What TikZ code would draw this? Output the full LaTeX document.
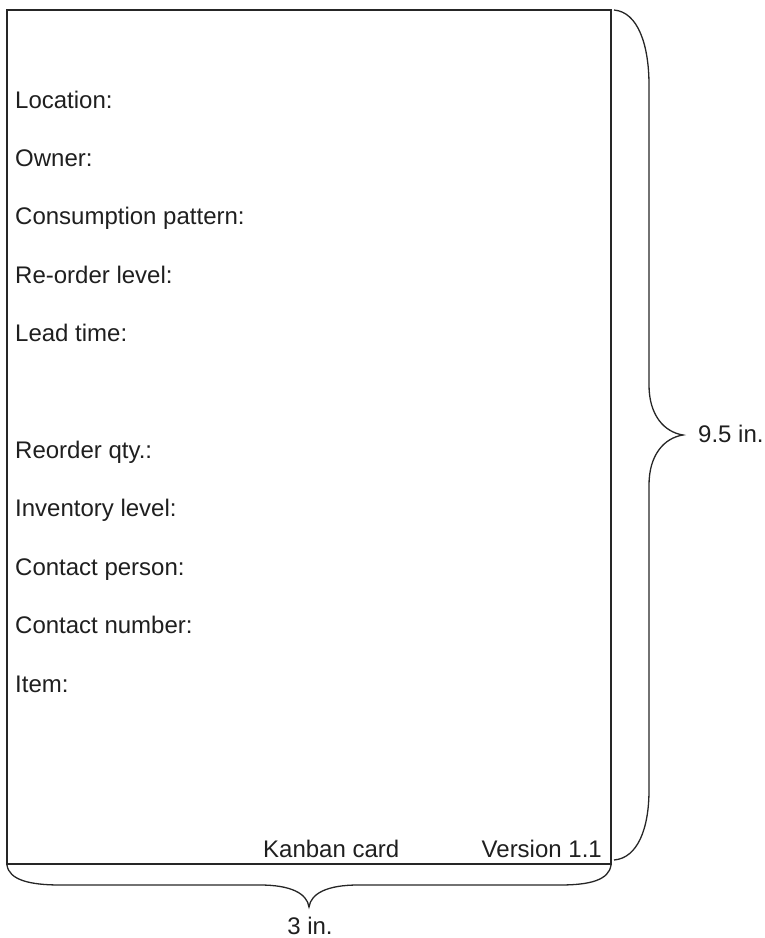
\documentclass[tikz,border=0pt]{standalone}
\usepackage{fontspec}
\setmainfont{Liberation Sans}
\begin{document}
\begin{tikzpicture}[x=1pt,y=-1pt,
  ink/.style={draw=black!85, line width=1.3pt},
  field/.style={anchor=base west, inner sep=0pt, text=black!88,
    font=\fontsize{24}{28}\selectfont},
  dimlabel/.style={anchor=base west, inner sep=0pt, text=black!88,
    text depth=0pt, font=\fontsize{24}{28}\selectfont}]
  \useasboundingbox (0,0) rectangle (765,938);

  % card outline
  \coordinate (cardNW) at (7,10);
  \coordinate (cardSE) at (611,864);
  \draw[ink] (cardNW) rectangle (cardSE);

  % field labels
  \node[field] (loc)   at (15,108)   {Location:};
  \node[field] (own)   at (15,166.4) {Owner:};
  \node[field] (cons)  at (15,224.8) {Consumption pattern:};
  \node[field] (rol)   at (15,283.2) {Re-order level:};
  \node[field] (lead)  at (15,341.6) {Lead time:};
  \node[field] (rqty)  at (15,458.4) {Reorder qty.:};
  \node[field] (inv)   at (15,516.8) {Inventory level:};
  \node[field] (cper)  at (15,575.2) {Contact person:};
  \node[field] (cnum)  at (15,633.6) {Contact number:};
  \node[field] (item)  at (15,692)   {Item:};

  % footer
  \node[field] (title) at (263,857) {Kanban card};
  \node[field, anchor=base east] (ver) at (602,857) {Version 1.1};

  % height brace
  \coordinate (rTop) at (614,10);
  \coordinate (rTip) at (683,435);
  \coordinate (rBot) at (614,860);
  \draw[ink] (rTop) .. controls (638,12) and (649,45) .. (649,85)
    -- (649,385) .. controls (649,415) and (664,432) .. (rTip)
    .. controls (664,438) and (649,455) .. (649,485)
    -- (649,790) .. controls (649,828) and (638,858) .. (rBot);
  \node[dimlabel] (hlabel) at (698,442) {9.5 in.};

  % width brace
  \coordinate (bLeft) at (7,865);
  \coordinate (bTip) at (309,907);
  \coordinate (bRight) at (611,865);
  \draw[ink] (bLeft) .. controls (9,880) and (30,885) .. (60,885)
    -- (260,885) .. controls (290,885) and (307,893) .. (bTip)
    .. controls (311,893) and (328,885) .. (358,885)
    -- (560,885) .. controls (590,885) and (609,880) .. (bRight);
  \node[dimlabel, anchor=base] (wlabel) at (310,934) {3 in.};
\end{tikzpicture}
\end{document}
